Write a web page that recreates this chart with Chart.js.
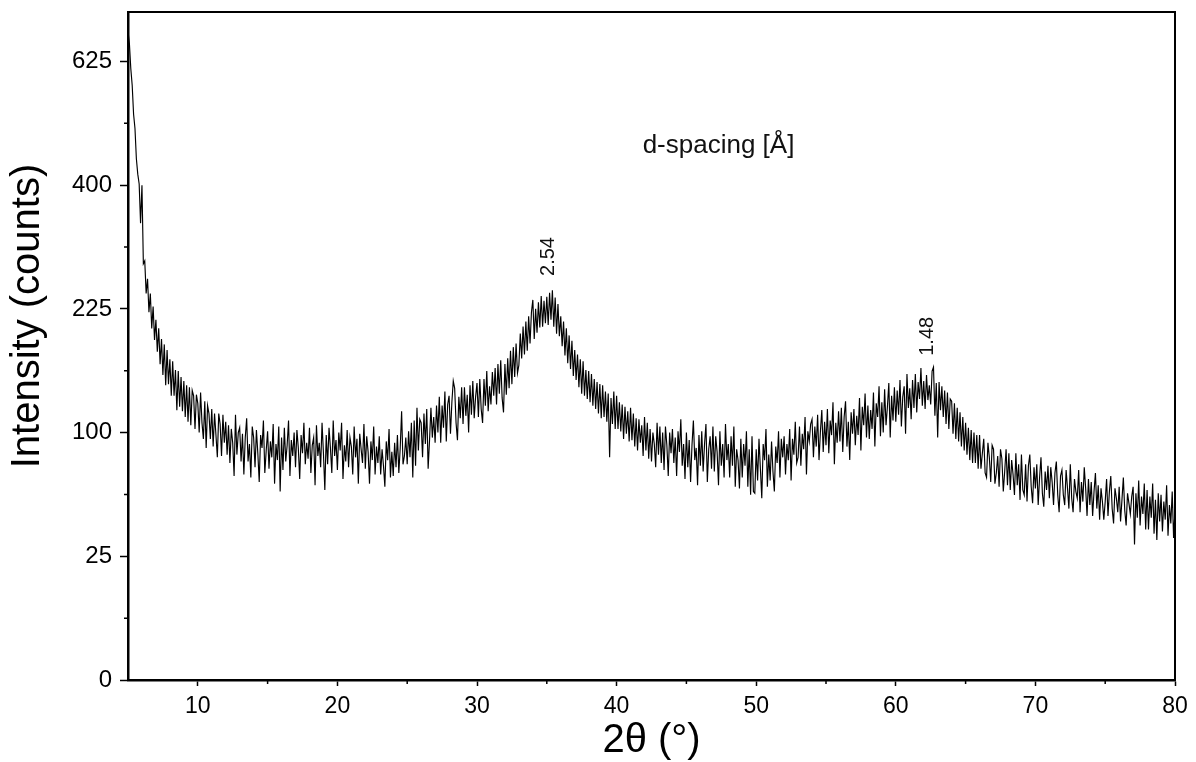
<!DOCTYPE html>
<html>
<head>
<meta charset="utf-8">
<title>XRD pattern</title>
<script src="https://cdn.jsdelivr.net/npm/chart.js@4.4.1/dist/chart.umd.min.js"></script>
<style>
  html, body { margin: 0; padding: 0; background: #fff; }
  #wrap { width: 1196px; height: 762px; position: relative; }
</style>
</head>
<body>
<div id="wrap"><canvas id="xrdChart"></canvas></div>
<script>
// scan grid: 2theta from 5 to 80 deg, 0.1 deg per step
const scanStart = 5;
const scanStep = 0.1;

// counts, one row per degree (x.0 ... x.9)
const counts = [
  688, 662, 611, 578, 523, 497, 444, 418, 402, 341,
  400, 283, 287, 244, 263, 221, 244, 202, 228, 189,
  212, 176, 202, 163, 190, 152, 184, 142, 178, 143,
  168, 132, 166, 132, 157, 119, 156, 122, 150, 118,
  146, 113, 142, 109, 140, 106, 137, 132, 103, 133,
  125, 100, 135, 108, 95, 127, 88, 123, 116, 95,
  120, 89, 116, 98, 81, 116, 107, 82, 115, 92,
  109, 83, 106, 77, 103, 92, 68, 115, 83, 100,
  104, 78, 99, 69, 96, 112, 78, 91, 67, 105,
  96, 74, 102, 84, 64, 98, 88, 110, 70, 86,
  101, 73, 93, 81, 107, 63, 91, 79, 105, 58,
  96, 72, 104, 78, 90, 110, 68, 94, 82, 100,
  74, 102, 88, 66, 98, 84, 108, 76, 92, 80,
  104, 70, 90, 96, 62, 106, 82, 92, 74, 108,
  84, 59, 98, 76, 104, 88, 70, 110, 82, 94,
  72, 100, 86, 108, 66, 90, 78, 102, 74, 96,
  89, 69, 105, 81, 95, 63, 99, 87, 77, 107,
  73, 97, 85, 63, 93, 79, 105, 69, 89, 77,
  97, 69, 87, 75, 61, 93, 79, 103, 67, 85,
  68, 92, 74, 98, 70, 88, 118, 76, 82, 96,
  76, 101, 81, 108, 67, 110, 75, 121, 86, 111,
  108, 81, 116, 91, 120, 73, 94, 121, 96, 113,
  92, 123, 100, 131, 92, 123, 104, 136, 93, 124,
  132, 99, 126, 146, 139, 108, 94, 131, 112, 140,
  107, 140, 114, 133, 100, 142, 115, 146, 112, 131,
  144, 113, 148, 120, 108, 148, 123, 156, 118, 141,
  124, 155, 132, 159, 124, 163, 134, 167, 130, 117,
  163, 133, 169, 139, 177, 143, 181, 150, 185, 154,
  162, 196, 169, 204, 173, 210, 177, 216, 185, 221,
  236, 190, 225, 197, 233, 203, 241, 204, 235, 208,
  240, 206, 245, 212, 248, 204, 239, 196, 231, 193,
  216, 182, 210, 172, 202, 164, 194, 158, 188, 151,
  178, 147, 173, 140, 168, 134, 166, 132, 157, 129,
  156, 126, 153, 123, 148, 120, 145, 116, 143, 112,
  142, 113, 136, 109, 134, 81, 130, 107, 136, 103,
  132, 103, 126, 101, 124, 95, 122, 99, 118, 93,
  121, 94, 116, 89, 112, 86, 111, 92, 106, 82,
  113, 86, 108, 80, 103, 78, 100, 91, 74, 108,
  83, 105, 77, 100, 72, 105, 90, 68, 100, 84,
  103, 77, 96, 68, 101, 85, 111, 75, 91, 66,
  100, 74, 94, 64, 90, 110, 79, 88, 62, 98,
  75, 101, 71, 91, 107, 64, 87, 97, 73, 105,
  71, 97, 85, 62, 101, 75, 91, 67, 107, 79,
  91, 67, 97, 75, 105, 61, 87, 79, 60, 95,
  67, 91, 75, 101, 61, 87, 56, 97, 58, 57,
  87, 65, 95, 73, 54, 91, 79, 103, 61, 83,
  65, 93, 71, 58, 89, 77, 101, 67, 95, 81,
  97, 69, 91, 79, 103, 65, 95, 83, 109, 77,
  81, 105, 75, 99, 87, 113, 69, 101, 93, 107,
  111, 81, 105, 89, 115, 79, 101, 119, 85, 109,
  90, 120, 84, 110, 98, 126, 76, 108, 92, 118,
  93, 121, 85, 113, 127, 89, 109, 79, 117, 99,
  120, 90, 114, 98, 130, 86, 122, 106, 134, 96,
  123, 95, 119, 103, 135, 89, 125, 113, 141, 97,
  126, 100, 138, 106, 122, 144, 96, 132, 110, 140,
  109, 137, 115, 147, 105, 131, 141, 99, 153, 121,
  139, 111, 147, 121, 153, 117, 145, 129, 159, 123,
  146, 120, 152, 128, 142, 124, 156, 160, 114, 144,
  96, 145, 119, 141, 113, 137, 107, 135, 103, 129,
  127, 99, 125, 95, 121, 93, 117, 89, 113, 86,
  108, 83, 104, 79, 102, 77, 100, 77, 98, 73,
  98, 73, 84, 95, 70, 67, 92, 81, 64, 90,
  87, 63, 70, 82, 61, 87, 80, 58, 71, 87,
  62, 84, 59, 79, 69, 56, 84, 62, 76, 53,
  83, 59, 56, 76, 52, 75, 83, 61, 51, 74,
  60, 76, 50, 67, 81, 57, 49, 71, 59, 75,
  54, 74, 64, 50, 70, 78, 56, 46, 68, 72,
  56, 50, 72, 60, 48, 76, 54, 46, 66, 58,
  54, 72, 46, 64, 52, 74, 60, 44, 66, 50,
  64, 44, 58, 70, 48, 62, 42, 60, 52, 42,
  52, 66, 44, 58, 68, 48, 40, 60, 54, 46,
  61, 41, 53, 67, 47, 39, 57, 51, 45, 55,
  61, 30, 57, 43, 65, 39, 55, 45, 63, 37,
  59, 37, 55, 43, 63, 35, 53, 32, 57, 41,
  56, 36, 52, 42, 62, 34, 50, 40, 58, 33,
  47
];

const xTicks = [10, 20, 30, 40, 50, 60, 70, 80];
const xMinorTicks = [15, 25, 35, 45, 55, 65, 75];
const yTicks = [0, 25, 100, 225, 400, 625];
const yMinorTicks = [6.25, 56.25, 156.25, 306.25, 506.25];

// d-spacing notes placed above the two broad reflections
const peakLabels = ['2.54', '1.48'];
const peakAngles = [35.1, 62.3];
const peakLabelCounts = [293, 193];

const FONT = '"Liberation Sans", Arial, sans-serif';

// square-root intensity axis
const LinearScale = Chart.LinearScale || Chart.scales.LinearScale;
class SqrtScale extends LinearScale {
  getPixelForValue(value) {
    if (value === null || value === undefined) return NaN;
    const a = Math.sqrt(this.min), b = Math.sqrt(this.max);
    return this.getPixelForDecimal((Math.sqrt(Math.max(value, 0)) - a) / (b - a));
  }
  getValueForPixel(pixel) {
    const a = Math.sqrt(this.min), b = Math.sqrt(this.max);
    const s = a + this.getDecimalForPixel(pixel) * (b - a);
    return s * s;
  }
}
SqrtScale.id = 'sqrt';
SqrtScale.defaults = LinearScale.defaults;
Chart.register(SqrtScale);

const frameAndNotes = {
  id: 'frameAndNotes',
  afterDraw(chart) {
    const { ctx, chartArea: a, scales: { x, y } } = chart;
    ctx.save();
    ctx.strokeStyle = '#000';
    ctx.lineWidth = 2;
    ctx.beginPath();
    ctx.moveTo(a.left, a.top);
    ctx.lineTo(a.right, a.top);
    ctx.lineTo(a.right, a.bottom);
    ctx.stroke();

    // minor ticks
    ctx.lineWidth = 1.5;
    ctx.beginPath();
    xMinorTicks.forEach(v => {
      const px = x.getPixelForValue(v);
      ctx.moveTo(px, a.bottom);
      ctx.lineTo(px, a.bottom + 4);
    });
    yMinorTicks.forEach(v => {
      const py = y.getPixelForValue(v);
      ctx.moveTo(a.left, py);
      ctx.lineTo(a.left - 4, py);
    });
    ctx.stroke();

    ctx.fillStyle = '#111';
    ctx.textAlign = 'center';
    ctx.textBaseline = 'middle';
    ctx.font = '20px ' + FONT;
    peakLabels.forEach((t, i) => {
      ctx.save();
      ctx.translate(x.getPixelForValue(peakAngles[i]), y.getPixelForValue(peakLabelCounts[i]));
      ctx.rotate(-Math.PI / 2);
      ctx.fillText(t, 0, 0);
      ctx.restore();
    });

    ctx.font = '26px ' + FONT;
    ctx.fillText('d-spacing [Å]', x.getPixelForValue(47.3), y.getPixelForValue(467));

    // y title sits a bit above the axis centre in the original
    ctx.save();
    ctx.fillStyle = '#000';
    ctx.font = '40px ' + FONT;
    ctx.translate(28, (a.top + a.bottom) / 2 - 30);
    ctx.rotate(-Math.PI / 2);
    ctx.fillText('Intensity (counts)', 0, 0);
    ctx.restore();
    ctx.restore();
  }
};

const points = counts.map((c, i) => ({ x: +(scanStart + i * scanStep).toFixed(1), y: c }));

new Chart(document.getElementById('xrdChart'), {
  type: 'line',
  data: {
    datasets: [{
      data: points,
      borderColor: '#000',
      borderWidth: 1.15,
      pointRadius: 0,
      tension: 0
    }]
  },
  options: {
    responsive: true,
    maintainAspectRatio: false,
    animation: false,
    events: [],
    layout: { padding: { top: 12, right: 21, left: 0, bottom: 0 } },
    plugins: { legend: { display: false }, tooltip: { enabled: false } },
    scales: {
      x: {
        type: 'linear',
        min: 5,
        max: 80,
        afterBuildTicks: s => { s.ticks = xTicks.map(v => ({ value: v })); },
        afterFit: s => { s.height = 82; },
        border: { color: '#000', width: 2.5 },
        grid: { drawOnChartArea: false, drawTicks: true, tickLength: 6, tickColor: '#000', tickWidth: 1.5 },
        ticks: { color: '#000', font: { family: FONT, size: 23 }, padding: 7, maxRotation: 0 },
        title: { display: true, text: '2θ (°)', color: '#000', font: { family: FONT, size: 40 }, padding: { top: 0, bottom: -3 } }
      },
      y: {
        type: 'sqrt',
        min: 0,
        max: 729,
        afterBuildTicks: s => { s.ticks = yTicks.map(v => ({ value: v })); },
        afterFit: s => { s.width = 128; s.paddingTop = 0; s.paddingBottom = 0; },
        border: { color: '#000', width: 2.5 },
        grid: { drawOnChartArea: false, drawTicks: true, tickLength: 8, tickColor: '#000', tickWidth: 1.5 },
        ticks: { color: '#000', font: { family: FONT, size: 24 }, padding: 8 }
      }
    }
  },
  plugins: [frameAndNotes]
});
</script>
</body>
</html>
